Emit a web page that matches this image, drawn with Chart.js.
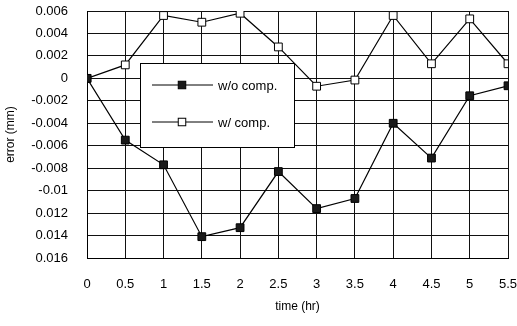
<!DOCTYPE html>
<html>
<head>
<meta charset="utf-8">
<script src="https://cdn.jsdelivr.net/npm/chart.js@4/dist/chart.umd.min.js"></script>
<style>
html,body{margin:0;padding:0;background:#fff;}
#wrap{position:relative;width:517px;height:326px;}
</style>
</head>
<body>
<div id="wrap"><canvas id="c" width="517" height="326"></canvas></div>
<script>
// ---- data ----
const timeHr = [0, 0.5, 1, 1.5, 2, 2.5, 3, 3.5, 4, 4.5, 5, 5.5];
const withoutComp = [0, -0.0055, -0.0077, -0.0141, -0.0133, -0.0083, -0.0116, -0.0107, -0.0040, -0.0071, -0.00155, -0.00066];
const withComp = [0, 0.0012, 0.0056, 0.0050, 0.0058, 0.0028, -0.0007, -0.00015, 0.0056, 0.0013, 0.0053, 0.0013];
const seriesNames = ['w/o comp.', 'w/ comp.'];
const yTickLabels = ['0.006','0.004','0.002','0','-0.002','-0.004','-0.006','-0.008','-0.01','0.012','0.014','0.016'];
const xTickLabels = ['0','0.5','1','1.5','2','2.5','3','3.5','4','4.5','5','5.5'];

const FONT = '"Liberation Sans", Arial, Helvetica, sans-serif';

const boxLegend = {
  id: 'boxLegend',
  afterDatasetsDraw(chart) {
    const ctx = chart.ctx;
    const ds = chart.data.datasets;
    const bx = 140.5, by = 63.5, bw = 154, bh = 84;
    ctx.save();
    ctx.fillStyle = '#fff';
    ctx.strokeStyle = '#000';
    ctx.lineWidth = 1;
    ctx.fillRect(bx, by, bw, bh);
    ctx.strokeRect(bx, by, bw, bh);
    const rows = [85, 122];
    ds.forEach((d, i) => {
      const y = rows[i];
      ctx.beginPath();
      ctx.strokeStyle = '#000';
      ctx.lineWidth = 1;
      ctx.moveTo(152, y); ctx.lineTo(213, y);
      ctx.stroke();
      const s = 7.5;
      ctx.fillStyle = d.pointBackgroundColor;
      ctx.fillRect(182 - s/2, y - s/2, s, s);
      ctx.strokeRect(182 - s/2, y - s/2, s, s);
      ctx.fillStyle = '#000';
      ctx.font = '13px ' + FONT;
      ctx.textBaseline = 'middle';
      ctx.textAlign = 'left';
      ctx.fillText(d.label, 218, y + 1);
    });
    ctx.restore();
  }
};

new Chart(document.getElementById('c'), {
  type: 'line',
  data: {
    datasets: [
      {
        label: seriesNames[0],
        data: timeHr.map((t, i) => ({x: t, y: withoutComp[i]})),
        borderColor: '#000', borderWidth: 1.2,
        pointStyle: 'rect', pointRadius: 5.5,
        pointBackgroundColor: '#1a1a1a', pointBorderColor: '#000', pointBorderWidth: 1,
        tension: 0
      },
      {
        label: seriesNames[1],
        data: timeHr.map((t, i) => ({x: t, y: withComp[i]})),
        borderColor: '#000', borderWidth: 1.2,
        pointStyle: 'rect', pointRadius: 5.5,
        pointBackgroundColor: '#fff', pointBorderColor: '#000', pointBorderWidth: 1,
        tension: 0
      }
    ]
  },
  options: {
    responsive: false,
    animation: false,
    layout: { padding: { top: 11, right: 9, bottom: 0, left: 0 } },
    plugins: { legend: { display: false }, tooltip: { enabled: false } },
    scales: {
      x: {
        type: 'linear', min: 0, max: 5.5,
        afterFit(s) { s.height = 68; s.paddingRight = 0; s.paddingLeft = 0; },
        afterBuildTicks(s) { s.ticks = timeHr.map(v => ({value: v})); },
        ticks: {
          color: '#000', font: { family: FONT, size: 13 }, padding: 19, maxRotation: 0, autoSkip: false,
          callback: (v, i) => xTickLabels[i]
        },
        grid: { color: '#111', lineWidth: 1, drawTicks: false },
        border: { color: '#000', width: 1 },
        title: { display: true, text: 'time (hr)', color: '#000', font: { family: FONT, size: 12 }, padding: { top: 0, bottom: 12 } }
      },
      y: {
        type: 'linear', min: -0.016, max: 0.006,
        afterFit(s) { s.width = 87; s.paddingTop = 0; s.paddingBottom = 0; },
        afterBuildTicks(s) { s.ticks = yTickLabels.map((_, i) => ({value: 0.006 - i * 0.002})); },
        ticks: {
          color: '#000', font: { family: FONT, size: 13 }, padding: 19, autoSkip: false,
          callback: (v) => yTickLabels[Math.round((0.006 - v) / 0.002)]
        },
        grid: { color: '#111', lineWidth: 1, drawTicks: false },
        border: { color: '#000', width: 1 },
        title: { display: true, text: 'error (mm)', color: '#000', font: { family: FONT, size: 12 }, padding: { top: 3, bottom: 0 } }
      }
    }
  },
  plugins: [boxLegend]
});
</script>
</body>
</html>
